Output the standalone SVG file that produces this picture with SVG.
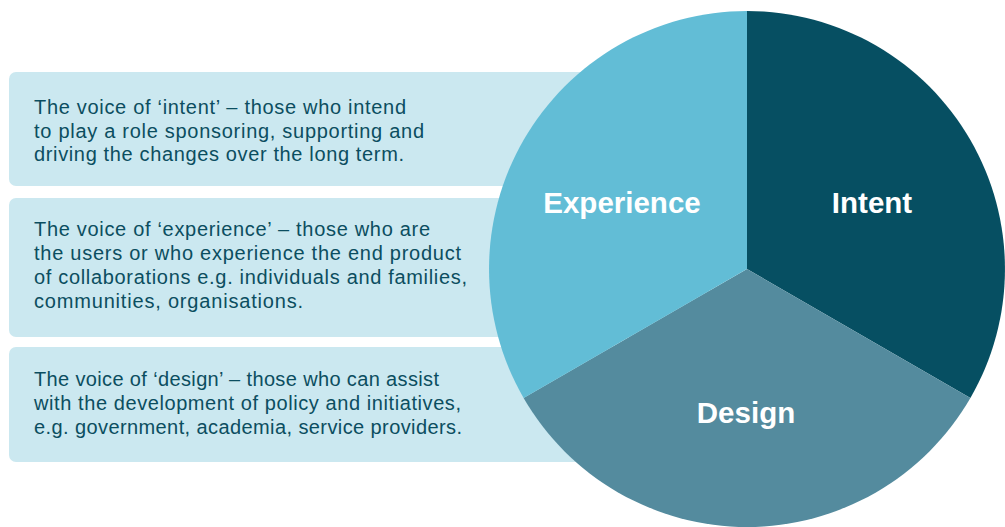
<svg xmlns="http://www.w3.org/2000/svg" width="1005" height="527" viewBox="0 0 1005 527">
<style>
.box{fill:#cbe8f0}
.desc{font-family:"Liberation Sans",Arial,sans-serif;font-size:20px;fill:#0b4e60}
.lbl{font-family:"Liberation Sans",Arial,sans-serif;font-size:29.5px;font-weight:bold;fill:#ffffff;text-anchor:middle}
</style>
<rect width="1005" height="527" fill="#ffffff"/>
<g id="box-intent">
<rect class="box" x="9" y="72" width="700" height="114" rx="7"/>
<text class="desc" x="34" y="114" textLength="372" lengthAdjust="spacing">The voice of ‘intent’ – those who intend</text>
<text class="desc" x="34" y="137.5" textLength="390" lengthAdjust="spacing">to play a role sponsoring, supporting and</text>
<text class="desc" x="34" y="161" textLength="370" lengthAdjust="spacing">driving the changes over the long term.</text>
</g>
<g id="box-experience">
<rect class="box" x="9" y="198" width="700" height="139" rx="7"/>
<text class="desc" x="34" y="236" textLength="396" lengthAdjust="spacing">The voice of ‘experience’ – those who are</text>
<text class="desc" x="34" y="260" textLength="427" lengthAdjust="spacing">the users or who experience the end product</text>
<text class="desc" x="34" y="284" textLength="433" lengthAdjust="spacing">of collaborations e.g. individuals and families,</text>
<text class="desc" x="34" y="308" textLength="269" lengthAdjust="spacing">communities, organisations.</text>
</g>
<g id="box-design">
<rect class="box" x="9" y="347" width="700" height="115" rx="7"/>
<text class="desc" x="34" y="386" textLength="405" lengthAdjust="spacing">The voice of ‘design’ – those who can assist</text>
<text class="desc" x="34" y="410" textLength="427" lengthAdjust="spacing">with the development of policy and initiatives,</text>
<text class="desc" x="34" y="434" textLength="428" lengthAdjust="spacing">e.g. government, academia, service providers.</text>
</g>
<g id="slice-intent">
<path d="M747,269 L747,11 A258,258 0 0 1 970.4,398 Z" fill="#064f62"/>
<text class="lbl" x="872" y="213">Intent</text>
</g>
<g id="slice-design">
<path d="M747,269 L970.4,398 A258,258 0 0 1 523.6,398 Z" fill="#548b9e"/>
<text class="lbl" x="746" y="423">Design</text>
</g>
<g id="slice-experience">
<path d="M747,269 L523.6,398 A258,258 0 0 1 747,11 Z" fill="#62bdd6"/>
<text class="lbl" x="622" y="213">Experience</text>
</g>
<g id="connectors"></g>
</svg>
